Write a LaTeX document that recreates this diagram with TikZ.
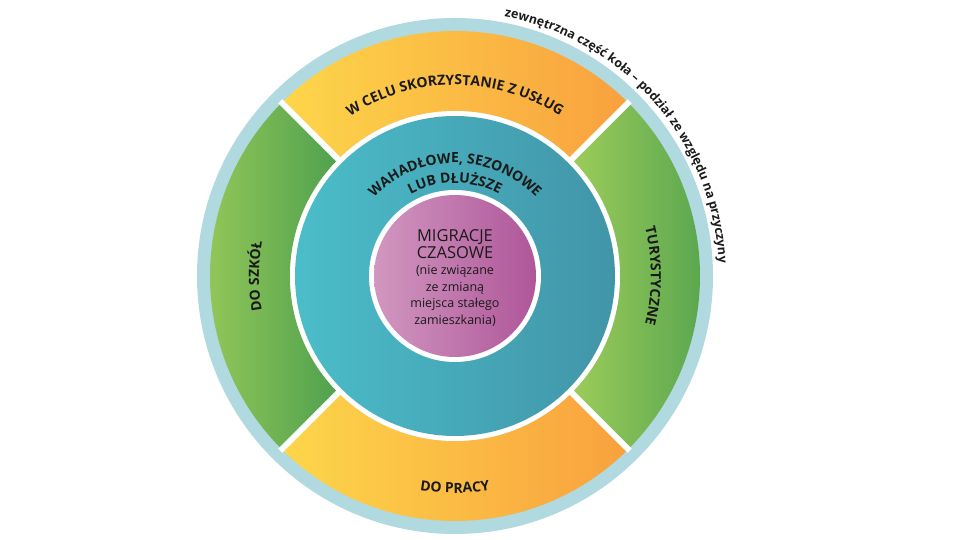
\documentclass[tikz,border=0pt]{standalone}
\usepackage{fontspec}
\setmainfont{Open Sans}
\usetikzlibrary{decorations.text}
\definecolor{ringblue}{HTML}{B0DAE0}
\definecolor{yel}{HTML}{FDD64A}
\definecolor{ora}{HTML}{F9A13E}
\definecolor{lgreen}{HTML}{9DCC5A}
\definecolor{dgreen}{HTML}{4FA14E}
\definecolor{lteal}{HTML}{4BBDC9}
\definecolor{dteal}{HTML}{4195A8}
\definecolor{lpur}{HTML}{D197C0}
\definecolor{dpur}{HTML}{AF5699}
\definecolor{txt}{HTML}{1A1A1A}
\tikzset{
  seglabel/.style={decorate,decoration={text along path,text align=center,
     text color=txt,text={|\bfseries\fontsize{14}{15}\selectfont|#1}}},
  outlabel/.style={decorate,decoration={text along path,text align=center,
     text color=txt,text={|\bfseries\fontsize{12.5}{13}\selectfont|#1}}},
  divider/.style={white,line width=6pt}
}
\begin{document}
\begin{tikzpicture}[x=1pt,y=1pt]
\useasboundingbox (-455,-264) rectangle (505,276);
\fill[ringblue] (0,0) circle[radius=258];
% segments
\shade[left color=yel,right color=ora] (45:245) arc[start angle=45,end angle=135,radius=245] -- (135:165) arc[start angle=135,end angle=45,radius=165] -- cycle;
\shade[left color=yel,right color=ora] (225:245) arc[start angle=225,end angle=315,radius=245] -- (315:165) arc[start angle=315,end angle=225,radius=165] -- cycle;
\shade[left color=lgreen,right color=dgreen] (135:245) arc[start angle=135,end angle=225,radius=245] -- (225:165) arc[start angle=225,end angle=135,radius=165] -- cycle;
\shade[left color=lgreen,right color=dgreen] (-45:245) arc[start angle=-45,end angle=45,radius=245] -- (45:165) arc[start angle=45,end angle=-45,radius=165] -- cycle;
\foreach \a in {45,135,225,315} \draw[divider] (\a:160) -- (\a:247);
\fill[white] (0,0) circle[radius=165];
\shade[left color=lteal,right color=dteal] (0,0) circle[radius=160];
\fill[white] (0,0) circle[radius=86];
\shade[left color=lpur,right color=dpur] (0,0) circle[radius=81];
% segment labels
\path[seglabel={W CELU SKORZYSTANIE Z USŁUG}] (130:191) arc[start angle=130,end angle=50,radius=191];
\path[seglabel={DO PRACY}] (250:217) arc[start angle=250,end angle=290,radius=217];
\path[seglabel={DO SZKÓŁ}] (205:196) arc[start angle=205,end angle=155,radius=196];
\path[seglabel={TURYSTYCZNE}] (32:196) arc[start angle=32,end angle=-32,radius=196];
\path[seglabel={WAHADŁOWE, SEZONOWE}] (145:113) arc[start angle=145,end angle=35,radius=113];
\path[seglabel={LUB DŁUŻSZE}] (135:93) arc[start angle=135,end angle=45,radius=93];
\path[outlabel={zewnętrzna część koła – podział ze względu na przyczyny}] (88:264) arc[start angle=88,end angle=-6,radius=264];
% centre
\node[text=txt,align=center,font=\fontsize{12.5}{16.5}\selectfont] (c) at (0,-2)
  {\fontsize{16.5}{18}\selectfont MIGRACJE\\\fontsize{16.5}{18}\selectfont CZASOWE\\(nie związane\\ze zmianą\\miejsca stałego\\zamieszkania)};
\end{tikzpicture}
\end{document}
